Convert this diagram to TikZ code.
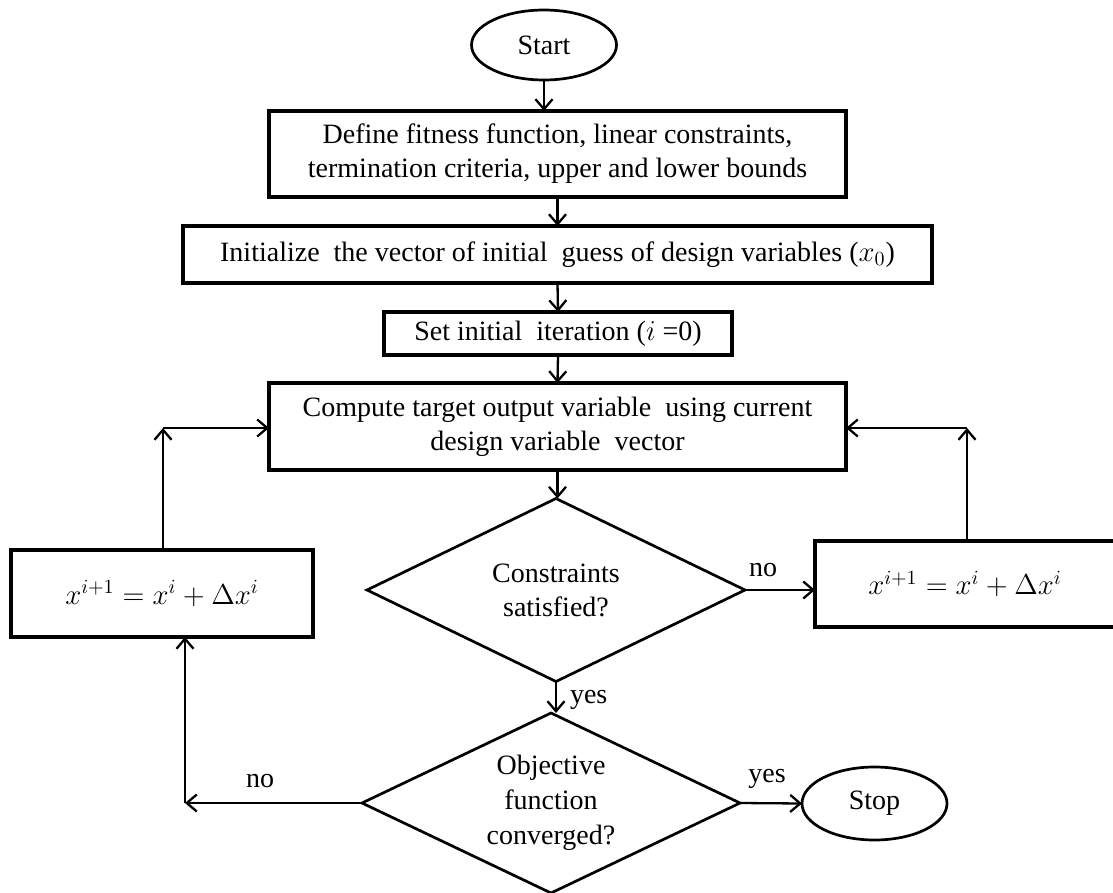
\documentclass[tikz,border=0pt]{standalone}
\usepackage{fontspec}
\setmainfont{Liberation Serif}
\usetikzlibrary{arrows.meta,shapes.geometric,calc}

\begin{document}
\begin{tikzpicture}[
  x=0.5pt, y=-0.5pt,
  every node/.style={font=\fontsize{14}{17}\selectfont, inner sep=0pt, outer sep=0pt},
  procbox/.style={draw, line width=1.8pt, rectangle, align=center},
  terminal/.style={draw, line width=1.35pt, ellipse, minimum width=72.5pt},
  decision/.style={draw, line width=1.35pt, diamond, aspect=2, align=center, minimum width=189pt},
  flow/.style={line width=1.15pt, -{Straight Barb[length=5pt,width=8.5pt,line width=1.15pt]}},
  branch/.style={font=\fontsize{14}{16}\selectfont}
]
\useasboundingbox (0,0) rectangle (1113,893);

% main column
\node[terminal, minimum height=35pt] (start) at (544,45) {Start};
\node[procbox, minimum width=288.5pt, minimum height=43pt] (define) at (557.5,154)
  {Define fitness function, linear constraints,\\termination criteria, upper and lower bounds};
\node[procbox, minimum width=374.5pt, minimum height=28.5pt] (init) at (557.5,254.5)
  {Initialize\ \ the vector of initial\ \ guess of design variables ($x_0$)};
\node[procbox, minimum width=174pt, minimum height=21.5pt] (iter) at (558,333.5)
  {Set initial\ \ iteration ($i$ =0)};
\node[procbox, minimum width=288.5pt, minimum height=43.5pt] (compute) at (557.5,426.5)
  {Compute target output variable\ \ using current\\design variable\ \ vector};
\node[decision, minimum height=91.5pt] (cons) at (556,590)
  {Constraints\\satisfied?};
\node[decision, minimum height=90pt, font=\fontsize{14}{17.5}\selectfont] (conv) at (551,803)
  {Objective\\function\\converged?};

% update boxes on both sides
\node[procbox, minimum width=151pt, minimum height=43.5pt] (updL) at (162,593.5)
  {$x^{i+1} = x^{i} + \Delta x^{i}$};
\node[procbox, minimum width=150pt, minimum height=43pt] (updR) at (965,584)
  {$x^{i+1} = x^{i} + \Delta x^{i}$};

\node[terminal, minimum height=36.5pt] (stop) at (874.5,803.5) {Stop};

% corner points of the loop connectors
\coordinate (cornL) at (163,428);
\coordinate (cornR) at (967,428);
\coordinate (cornB) at (185,803);

% straight flow
\draw[flow] (start.south) -- (start.south |- define.north);
\draw[flow] (define.south) -- (init.north);
\draw[flow] (init.south) -- (iter.north);
\draw[flow] (iter.south) -- (compute.north);
\draw[flow] (compute.south) -- (compute.south |- cons.north);
\draw[flow] (cons.south) -- (cons.south |- conv.north);
\node[branch, anchor=west] (yes1) at (570,700) {yes};

% constraints not satisfied
\draw[flow] (cons.east) -- (cons.east -| updR.west);
\node[branch] (no1) at (763,570) {no};
\draw[flow] (updR.north -| cornR) -- (cornR);
\draw[flow] (cornR) -- (cornR -| compute.east);

% not converged
\draw[flow] (conv.west) -- (cornB);
\node[branch] (no2) at (260,781) {no};
\draw[flow] (cornB) -- (cornB |- updL.south);
\draw[flow] (updL.north -| cornL) -- (cornL);
\draw[flow] (cornL) -- (cornL -| compute.west);

% converged
\draw[flow] (conv.east) -- (stop.west);
\node[branch] (yes2) at (767,779) {yes};
\end{tikzpicture}
\end{document}
